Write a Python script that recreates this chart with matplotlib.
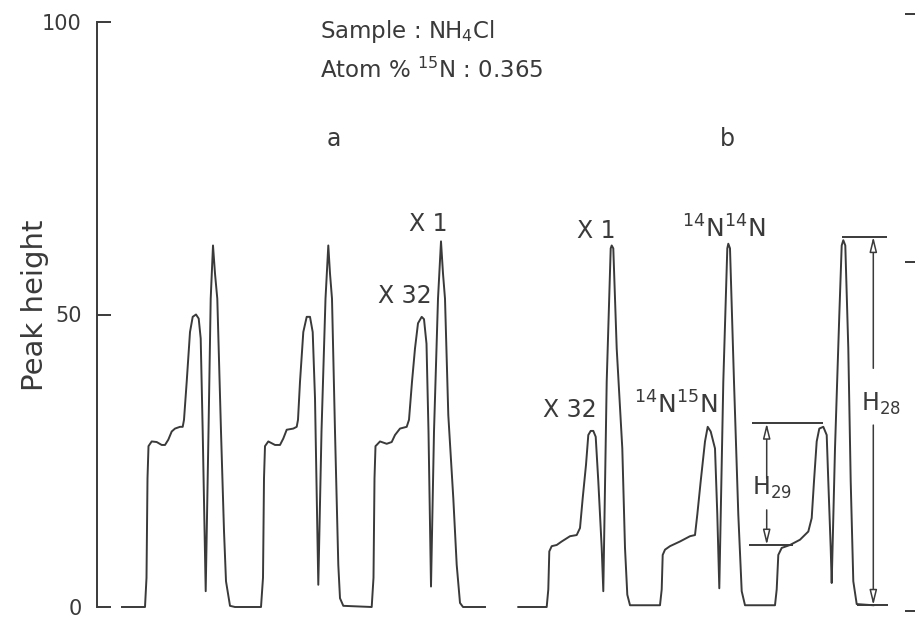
import matplotlib
matplotlib.use("Agg")
import matplotlib.pyplot as plt

# ---------------- data ----------------
# x in chart units (scan position), y in peak height (0-100)
trace_a_x = [122, 145, 146.5, 147.5, 148.5, 151.7, 156.7, 161.7, 165, 168.3, 171.7, 175, 180, 182.7,
             184, 186.7, 190, 192.7, 196, 198.7, 200.7, 202.7, 205.7, 208.5, 210.7, 213, 215, 217.3,
             221, 224, 226, 230, 235,
             261, 263, 264, 265, 268.3, 275, 280, 283.3, 286.7, 293.3, 296.7, 298, 300, 303.3, 306.7,
             310, 312.7, 315, 318.3, 321.5, 325.5, 328.3, 330, 332, 335, 338.3, 340, 343.3,
             371.7, 373.5, 374.5, 375.5, 376.7, 380, 386.7, 391.7, 395, 400, 406.7, 409, 412, 415, 418,
             421.7, 424, 426.5, 428.5, 431, 434, 438, 441, 443, 445, 448.3, 453.3, 456.7, 460, 463, 485]
trace_a_y = [0, 0, 5, 22, 27.5, 28.3, 28.2, 27.7, 27.7, 28.6, 30.0, 30.5, 30.8, 30.8,
             32, 38.5, 47.0, 49.6, 50.0, 49.3, 45.9, 30, 2.7, 30, 52.7, 61.8, 57, 52.7,
             30, 13, 4.4, 0.2, 0,
             0, 5, 22, 27.5, 28.3, 27.7, 27.7, 28.8, 30.3, 30.5, 30.8, 32, 38.5, 47.0, 49.6,
             49.6, 47.0, 35.7, 3.8, 30, 52.7, 61.8, 57, 52.7, 30, 7.2, 1.5, 0.2,
             0, 5, 22, 27.5, 27.7, 28.3, 27.9, 28.2, 29.4, 30.5, 30.8, 32, 38.5, 44.2, 48.5,
             49.6, 49.2, 45, 30, 3.5, 30, 52.7, 62.5, 57, 52.7, 32.8, 18.6, 7.2, 0.7, 0, 0]

trace_b_x = [518.3, 546.7, 548.3, 549.3, 551.7, 556.7, 561.7, 570, 576.7, 580, 582.7, 586, 588.3,
             590.7, 593.3, 595.7, 598.3, 601.7, 603.3, 606.7, 610.7, 611.7, 613.3, 616.7, 622.3,
             625, 627.3, 630, 660,
             661.7, 662.7, 665, 670, 680, 690, 695, 697.3, 700.7, 705, 707.7, 710.7, 715, 717.3,
             719.3, 723.3, 727.3, 728.3, 730, 734, 738.3, 741.7, 745, 775,
             776.7, 778.3, 781.7, 790, 800, 808.3, 811.7, 814, 816.7, 819.3, 823.3, 826.7, 828.3,
             830.7, 831.7, 835, 839.3, 841.7, 843.3, 845.3, 848.3, 850.7, 853.3, 856.7, 873.3]
trace_b_y = [0, 0, 3, 9.5, 10.4, 10.6, 11.2, 12.1, 12.3, 13.5, 18.6, 24.3, 29.4,
             30.1, 30.1, 29.1, 21.5, 10.1, 2.7, 38.5, 61.3, 61.8, 61.3, 44.2, 27.1,
             10.1, 2.1, 0.3, 0.3,
             3, 8.9, 9.8, 10.4, 11.2, 12.1, 12.3, 15.8, 21.5, 28.3, 30.8, 30.0, 27.1, 15.8,
             3.2, 38.5, 61.3, 62.1, 61.3, 38.5, 15.8, 2.7, 0.3, 0.3,
             3, 8.9, 10.1, 10.6, 11.5, 12.9, 15.2, 21.5, 28.3, 30.5, 30.8, 29.4, 21.5,
             10.1, 4.1, 27.1, 49.9, 61.8, 62.7, 61.8, 44.2, 21.5, 4.4, 0.5, 0.3]

y_ticks = [0, 50, 100]
y_ticklabels = ["0", "50", "100"]
right_ticks = [-0.6, 58.9, 101.4]

h29_top, h29_bottom = 31.4, 10.6
h28_top, h28_bottom = 63.3, 0.3

# ---------------- figure ----------------
INK = "#3a3a3a"
W, H = 915, 619
Y0, Y100 = 607, 22
fig = plt.figure(figsize=(W / 100, H / 100), dpi=100)
fig.patch.set_facecolor("white")
ax = fig.add_axes([97 / W, (H - Y0) / H, (W - 97) / W, (Y0 - Y100) / H])
ax.set_xlim(97, 915)
ax.set_ylim(0, 100)

for s in ["top", "right", "bottom"]:
    ax.spines[s].set_visible(False)
ax.spines["left"].set_color(INK)
ax.spines["left"].set_linewidth(1.4)
ax.set_xticks([])
ax.tick_params(axis="y", direction="in", length=10, width=1.4, color=INK, pad=11,
               labelsize=15, labelcolor=INK)
ax.set_yticks(y_ticks)
ax.set_yticklabels(y_ticklabels)

# right-hand tick marks
ax.hlines(right_ticks, 905, 915, color=INK, lw=1.4, clip_on=False)

lw = 1.4
ax.plot(trace_a_x, trace_a_y, color=INK, lw=lw, clip_on=False, solid_joinstyle="round")
ax.plot(trace_b_x, trace_b_y, color=INK, lw=lw, clip_on=False, solid_joinstyle="round")

# H29 annotation
ax.hlines(h29_top, 751.7, 823.3, color=INK, lw=lw)
ax.hlines(h29_bottom, 749.3, 793.3, color=INK, lw=lw)
arrow = dict(arrowstyle="-|>,head_width=0.22,head_length=0.9", color=INK, lw=1.1,
             fc="white", shrinkA=0, shrinkB=0)
ax.annotate("", xy=(766.7, h29_top), xytext=(766.7, 22.0), arrowprops=arrow)
ax.annotate("", xy=(766.7, h29_bottom), xytext=(766.7, 16.6), arrowprops=arrow)
ax.text(772, 20.3, "H$_{29}$", ha="center", va="center", fontsize=17, color=INK)

# H28 annotation
ax.hlines(h28_top, 841.7, 886.7, color=INK, lw=lw)
ax.hlines(h28_bottom, 856.7, 888.3, color=INK, lw=lw)
ax.annotate("", xy=(873.3, h28_top), xytext=(873.3, 40.8), arrowprops=arrow)
ax.annotate("", xy=(873.3, h28_bottom), xytext=(873.3, 31.1), arrowprops=arrow)
ax.text(881, 34.8, "H$_{28}$", ha="center", va="center", fontsize=17, color=INK)

# peak labels
fs = 17
ax.text(428, 65.5, "X 1", ha="center", va="center", fontsize=fs, color=INK)
ax.text(405, 53.1, "X 32", ha="center", va="center", fontsize=fs, color=INK)
ax.text(596, 64.3, "X 1", ha="center", va="center", fontsize=fs, color=INK)
ax.text(570, 33.6, "X 32", ha="center", va="center", fontsize=fs, color=INK)
ax.text(724, 64.7, "$^{14}$N$^{14}$N", ha="center", va="center", fontsize=18, color=INK)
ax.text(676, 34.5, "$^{14}$N$^{15}$N", ha="center", va="center", fontsize=18, color=INK)

ax.text(334, 80.0, "a", ha="center", va="center", fontsize=17, color=INK)
ax.text(727, 80.0, "b", ha="center", va="center", fontsize=17, color=INK)

ax.text(320, 98.3, "Sample : NH$_4$Cl", ha="left", va="center", fontsize=16.5, color=INK)
ax.text(320, 91.8, "Atom % $^{15}$N : 0.365", ha="left", va="center", fontsize=16.5, color=INK)

fig.text(35 / W, 1 - 305 / H, "Peak height", rotation=90, ha="center", va="center",
         fontsize=21, color=INK)

fig.savefig("out.png", dpi=100, facecolor="white")
